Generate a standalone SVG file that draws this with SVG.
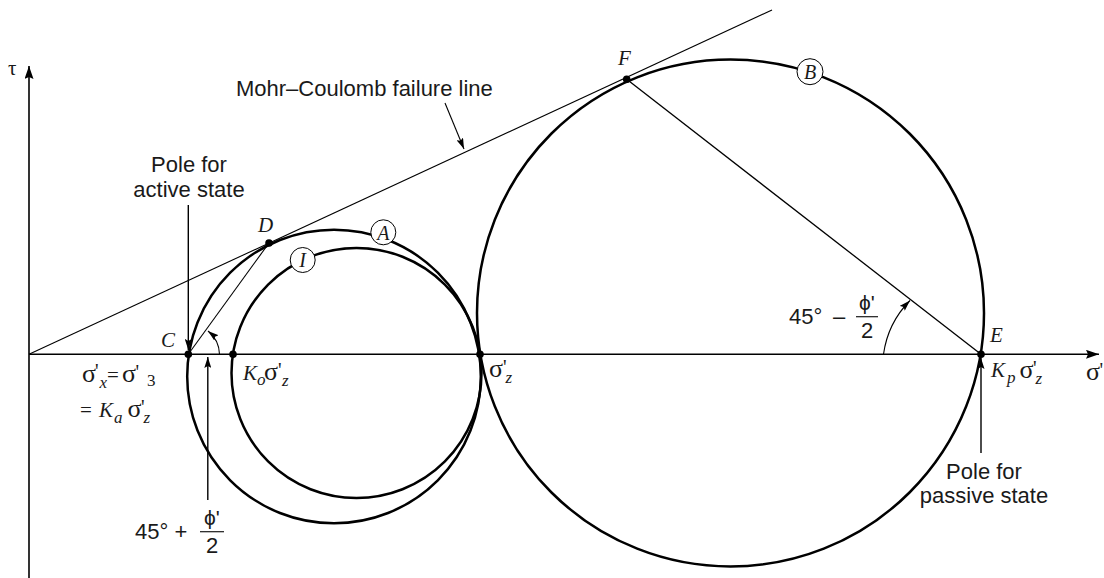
<svg xmlns="http://www.w3.org/2000/svg" width="1104" height="578" viewBox="0 0 1104 578">
<defs>
<style>
.circ{fill:none;stroke:#000;stroke-width:2.5}
.axis{fill:none;stroke:#000;stroke-width:1.6}
.thin{fill:none;stroke:#000;stroke-width:1.1}
.dot{fill:#000}
.tag{fill:#fff;stroke:#000;stroke-width:1}
.sans{font-family:"Liberation Sans",Arial,sans-serif;font-size:22px;fill:#1a1a1a}
.phi{font-family:"Liberation Sans","DejaVu Sans",sans-serif;font-size:21px;fill:#1a1a1a}
.serif{font-family:"Liberation Serif","Times New Roman",serif;font-size:21px;fill:#1a1a1a}
.it{font-style:italic}
.sig{font-size:26px}
.pr{font-size:20px}
.sub{font-size:17px}
</style>
<marker id="axh" viewBox="0 0 13 9" refX="13" refY="4.5" markerWidth="13" markerHeight="9" markerUnits="userSpaceOnUse" orient="auto">
<path d="M0,0 L13,4.5 L0,9 L2,4.5 z" fill="#000"/>
</marker>
<marker id="ah" viewBox="0 0 11 7" refX="11" refY="3.5" markerWidth="11" markerHeight="7" markerUnits="userSpaceOnUse" orient="auto">
<path d="M0,0 L11,3.5 L0,7 L2,3.5 z" fill="#000"/>
</marker>
</defs>
<rect width="1104" height="578" fill="#fff"/>

<g id="axes">
<line class="axis" x1="29" y1="578" x2="29" y2="66" marker-end="url(#axh)"/>
<line class="axis" x1="29" y1="354.3" x2="1099" y2="354.3" marker-end="url(#axh)"/>
<text class="serif" x="8" y="75">τ</text>
<text class="serif" y="380"><tspan class="sig" x="1086">σ</tspan><tspan class="pr" x="1099.5" y="377">'</tspan></text>
</g>

<g id="circle-A"><circle class="circ" cx="334" cy="376.5" r="146.8"/></g>
<g id="circle-I"><circle class="circ" cx="356.5" cy="373" r="125"/></g>
<g id="circle-B"><circle class="circ" cx="730.5" cy="313" r="253.5"/></g>

<g id="connectors">
<line class="thin" x1="29" y1="354.3" x2="772" y2="10"/>
<line class="thin" x1="626.7" y1="79.3" x2="981" y2="354.3" style="stroke-width:1.3"/>
<line class="thin" x1="269" y1="243" x2="188.3" y2="354.3"/>
<line class="thin" x1="445" y1="103" x2="464" y2="149" marker-end="url(#ah)"/>
<line class="thin" x1="188.3" y1="205" x2="188.3" y2="350" style="stroke-width:1.4" marker-end="url(#ah)"/>
<line class="thin" x1="207.8" y1="500" x2="207.8" y2="357" style="stroke-width:1.4" marker-end="url(#ah)"/>
<line class="thin" x1="981" y1="453" x2="981" y2="358" style="stroke-width:1.4" marker-end="url(#ah)"/>
<path class="thin" d="M219.5,354.3 A31,31 0 0 0 208,331" marker-end="url(#ah)"/>
<path class="thin" d="M883.5,354.3 A95,95 0 0 1 910,300.5" marker-end="url(#ah)"/>
</g>

<g id="point-C"><circle class="dot" cx="188.3" cy="354.3" r="3.8"/><text class="serif it" x="161" y="347">C</text></g>
<g id="point-D"><circle class="dot" cx="269" cy="243" r="3.8"/><text class="serif it" x="258" y="232">D</text></g>
<g id="point-Ko"><circle class="dot" cx="233" cy="354.3" r="3.8"/>
<text class="serif" y="380"><tspan class="it" x="243">K</tspan><tspan class="it sub" x="257" y="385">o</tspan><tspan class="sig" x="264" y="380">σ</tspan><tspan class="pr" x="278" y="377">'</tspan><tspan class="it sub" x="282" y="386">z</tspan></text>
</g>
<g id="point-sz"><circle class="dot" cx="480" cy="354.3" r="3.8"/>
<text class="serif" y="377"><tspan class="sig" x="489">σ</tspan><tspan class="pr" x="503" y="374">'</tspan><tspan class="it sub" x="505.5" y="383">z</tspan></text>
</g>
<g id="point-E"><circle class="dot" cx="981" cy="354.3" r="3.8"/><text class="serif it" x="990" y="342">E</text>
<text class="serif" y="377"><tspan class="it" x="991">K</tspan><tspan class="it sub" x="1007" y="383">p</tspan><tspan class="sig" x="1019.5" y="378">σ</tspan><tspan class="pr" x="1033" y="375">'</tspan><tspan class="it sub" x="1035.5" y="384">z</tspan></text>
</g>
<g id="point-F"><circle class="dot" cx="626.7" cy="79.3" r="3.8"/><text class="serif it" x="618" y="65">F</text></g>

<g id="tag-A"><circle class="tag" cx="383.3" cy="232.3" r="12.5"/><text class="serif it" x="383.3" y="239.5" text-anchor="middle" style="font-size:20px">A</text></g>
<g id="tag-I"><circle class="tag" cx="302.7" cy="260" r="12.5"/><text class="serif it" x="302.7" y="267" text-anchor="middle" style="font-size:20px">I</text></g>
<g id="tag-B"><circle class="tag" cx="810" cy="71.7" r="13"/><text class="serif it" x="810" y="78.8" text-anchor="middle" style="font-size:20px">B</text></g>

<g id="label-failure"><text class="sans" x="236" y="96">Mohr–Coulomb failure line</text></g>
<g id="label-active-pole"><text class="sans" x="189" y="172" text-anchor="middle">Pole for</text><text class="sans" x="189" y="197" text-anchor="middle">active state</text></g>
<g id="label-passive-pole"><text class="sans" x="984" y="479" text-anchor="middle">Pole for</text><text class="sans" x="984" y="503" text-anchor="middle">passive state</text></g>

<g id="label-sx">
<text class="serif" y="382"><tspan class="sig" x="82">σ</tspan><tspan class="pr" x="95" y="378">'</tspan><tspan class="it sub" x="99.5" y="388">x</tspan><tspan x="107" y="382">=</tspan><tspan class="sig" x="122">σ</tspan><tspan class="pr" x="135.5" y="379">'</tspan><tspan class="sub" x="147" y="386">3</tspan></text>
<text class="serif" y="417"><tspan x="80">=</tspan><tspan class="it" x="99">K</tspan><tspan class="it sub" x="114" y="423">a</tspan><tspan class="sig" x="127.5" y="417">σ</tspan><tspan class="pr" x="141" y="414">'</tspan><tspan class="it sub" x="143.5" y="423">z</tspan></text>
</g>

<g id="label-angle-active">
<text class="sans" x="135" y="539">45° +</text>
<text class="phi" x="212" y="525" text-anchor="middle">ϕ'</text>
<line x1="200" y1="531.7" x2="224" y2="531.7" stroke="#1a1a1a" stroke-width="1.2"/>
<text class="sans" x="212" y="553" text-anchor="middle">2</text>
</g>
<g id="label-angle-passive">
<text class="sans" x="789" y="324">45°</text>
<text class="sans" x="833" y="324">–</text>
<text class="phi" x="867" y="310" text-anchor="middle">ϕ'</text>
<line x1="856" y1="316.7" x2="878" y2="316.7" stroke="#1a1a1a" stroke-width="1.2"/>
<text class="sans" x="867" y="338" text-anchor="middle">2</text>
</g>
</svg>
